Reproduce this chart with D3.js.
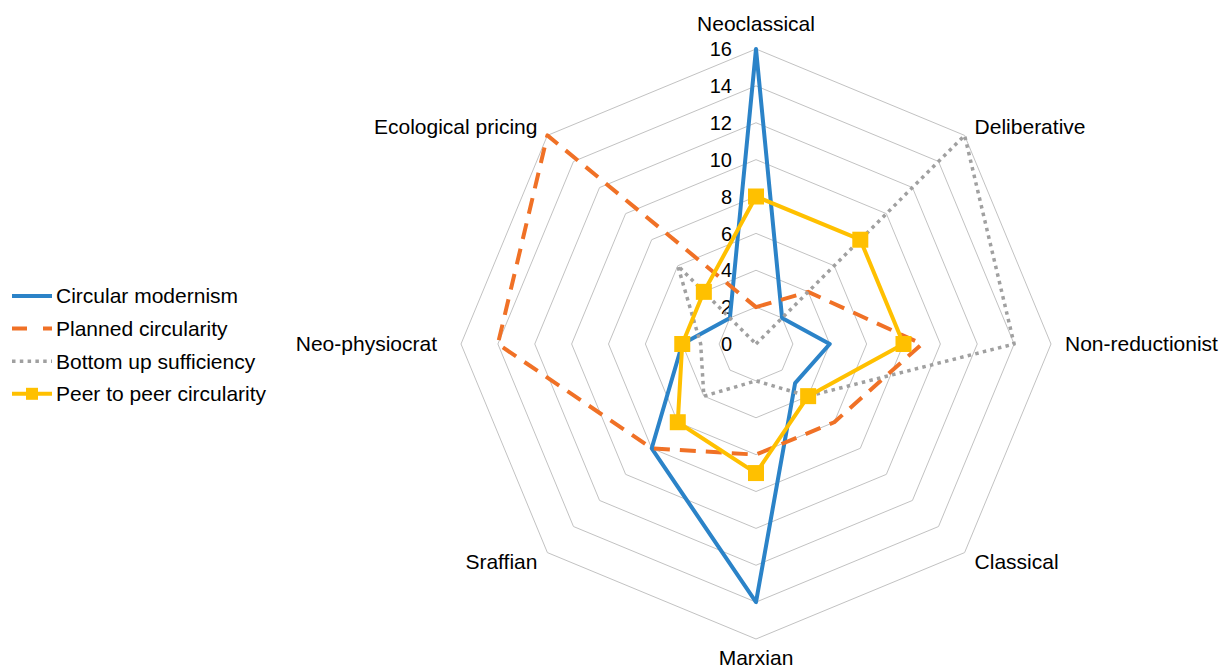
<!DOCTYPE html>
<html>
  <head>
    <meta charset="UTF-8">
    <title>Circularity discourses by economic school (radar)</title>
    <style>
      body { margin: 0; background: #fff; }
      text { font-family: "Liberation Sans", Arial, sans-serif; fill: #000; }
    </style>
  </head>
  <body>
    <svg></svg>

    <script src="https://d3js.org/d3.v7.min.js"></script>
    <script>

/* DATA */

// axes, clockwise from the top
var axes = ["Neoclassical", "Deliberative", "Non-reductionist", "Classical",
  "Marxian", "Sraffian", "Neo-physiocrat", "Ecological pricing"];

var seriesNames = ["Circular modernism", "Planned circularity",
  "Bottom up sufficiency", "Peer to peer circularity"];

// one value per axis, same order as axes
var circularModernism    = [16, 2, 4, 3, 14, 8, 4, 2];
var plannedCircularity   = [2, 4, 9, 6, 6, 8, 14, 16];
var bottomUpSufficiency  = [0, 16, 14, 4, 2, 4, 3, 6];
var peerToPeer           = [8, 8, 8, 4, 7, 6, 4, 4];

var ticks = [0, 2, 4, 6, 8, 10, 12, 14, 16];

var config = {
  "width": 1220,
  "height": 671,
  "cx": 756,
  "cy": 344,
  "radius": 295,
  "grid": "#c2c2c2"
}

// line styles for each series
var styles = [
  {"color": "#2b83c8", "dash": null, "width": 4, "marker": false},
  {"color": "#f07126", "dash": "16,10", "width": 4, "marker": false},
  {"color": "#a0a0a0", "dash": "3.5,4.3", "width": 3.5, "marker": false},
  {"color": "#ffc000", "dash": null, "width": 4, "marker": true}
];

var series = [circularModernism, plannedCircularity, bottomUpSufficiency, peerToPeer];

/* BUILD THE VISUALIZATION */

var svg = d3.select("svg")
  .attr("width", config.width)
  .attr("height", config.height);

var r = d3.scaleLinear()
  .domain([0, d3.max(ticks)])
  .range([0, config.radius]);

var angle = d3.scalePoint()
  .domain(axes.concat(["_end"]))
  .range([0, 2 * Math.PI]);

var chart = svg.append("g")
  .attr("transform", `translate(${config.cx},${config.cy})`);

// grid rings (octagons, no spokes)
var ring = d3.lineRadial()
  .angle(function(d){ return angle(d); })
  .curve(d3.curveLinearClosed);

chart.selectAll(".ring")
  .data(ticks.filter(function(t){ return t > 0; }))
  .enter().append("path")
    .attr("class", "ring")
    .attr("d", function(t){ return ring.radius(r(t))(axes); })
    .attr("fill", "none")
    .attr("stroke", config.grid)
    .attr("stroke-width", 1);

// tick labels along the top axis
chart.selectAll(".tick")
  .data(ticks)
  .enter().append("text")
    .attr("class", "tick")
    .attr("x", -24)
    .attr("y", function(t){ return -r(t); })
    .attr("dy", "0.36em")
    .attr("text-anchor", "end")
    .style("font-size", "20px")
    .text(function(t){ return t; });

// axis labels
function xy(name, value){
  var a = angle(name);
  return [r(value) * Math.sin(a), -r(value) * Math.cos(a)];
}

chart.selectAll(".axis-label")
  .data(axes)
  .enter().append("text")
    .attr("class", "axis-label")
    .style("font-size", "21px")
    .each(function(d){
      var a = angle(d), s = Math.sin(a), c = Math.cos(a);
      var p = xy(d, d3.max(ticks));
      var x = p[0], y = p[1], anchor = "middle";
      if (s > 0.1) { anchor = "start"; x += Math.abs(c) < 0.1 ? 14 : 10; }
      if (s < -0.1) { anchor = "end"; x -= Math.abs(c) < 0.1 ? 24 : 10; }
      if (Math.abs(s) < 0.1) { y += c > 0 ? -18 : 26; }
      else if (Math.abs(c) < 0.1) { y += 7; }
      else { y += c > 0 ? -1 : 16; }
      d3.select(this)
        .attr("x", x)
        .attr("y", y)
        .attr("text-anchor", anchor)
        .text(d);
    });

// series
var radar = d3.lineRadial()
  .angle(function(d, i){ return angle(axes[i]); })
  .radius(function(d){ return r(d); })
  .curve(d3.curveLinearClosed);

series.forEach(function(vals, k){
  var st = styles[k];
  chart.append("path")
    .attr("d", radar(vals))
    .attr("fill", "none")
    .attr("stroke", st.color)
    .attr("stroke-width", st.width)
    .attr("stroke-linejoin", "round")
    .attr("stroke-dasharray", st.dash);

  if (st.marker) {
    chart.selectAll(".marker" + k)
      .data(vals)
      .enter().append("rect")
        .attr("x", function(d, i){ return xy(axes[i], d)[0] - 8; })
        .attr("y", function(d, i){ return xy(axes[i], d)[1] - 8; })
        .attr("width", 16)
        .attr("height", 16)
        .attr("fill", st.color);
  }
});

// legend
var legend = svg.append("g")
  .attr("transform", "translate(12,296)");

var item = legend.selectAll(".item")
  .data(seriesNames)
  .enter().append("g")
    .attr("class", "item")
    .attr("transform", function(d, i){ return `translate(0,${i * 32.6})`; });

item.append("line")
  .attr("x1", 0)
  .attr("x2", 40)
  .attr("stroke", function(d, i){ return styles[i].color; })
  .attr("stroke-width", function(d, i){ return styles[i].width; })
  .attr("stroke-dasharray", function(d, i){ return i == 1 ? "15,16" : styles[i].dash; });

item.filter(function(d, i){ return styles[i].marker; })
  .append("rect")
    .attr("x", 14)
    .attr("y", -6)
    .attr("width", 12)
    .attr("height", 12)
    .attr("fill", function(d){ return styles[seriesNames.indexOf(d)].color; });

item.append("text")
  .attr("x", 44)
  .attr("dy", "0.35em")
  .style("font-size", "21px")
  .text(function(d){ return d; });

    </script>
  </body>
</html>
